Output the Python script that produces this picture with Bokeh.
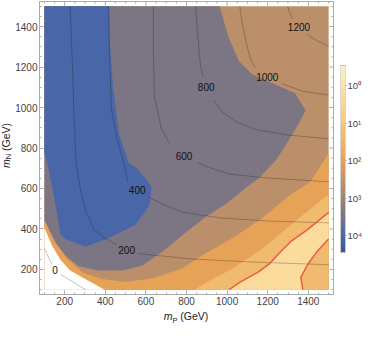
import math
import numpy as np
from bokeh.plotting import figure
from bokeh.layouts import row, column
from bokeh.models import Range1d, FixedTicker, LinearColorMapper, Div, CustomJSTickFormatter
from bokeh.core.properties import value
from bokeh.embed import file_html
from bokeh.resources import INLINE

NAN = float("nan")

# data extent (GeV) and plotted range
mp_extent = [100, 1500]
mn_extent = [100, 1500]
axis_range = [76, 1524]

# filled regions (m_P, m_N in GeV)
orange_mp = [1500, 1410, 1302, 1161, 1019, 892, 784, 642, 501, 383, 289, 208, 147, 100]
orange_mn = [774, 633, 562, 444, 350, 279, 208, 157, 138, 152, 185, 256, 340, 444]

pale_mp = [1500, 1302, 1161, 1019, 901, 840]
pale_mn = [571, 411, 293, 199, 138, 100]

red1_mp = [1500, 1396, 1316, 1255, 1208, 1151, 1066, 1010]
red1_mn = [482, 397, 340, 279, 227, 185, 138, 100]
red2_mp = [1500, 1443, 1396, 1363, 1373]
red2_mn = [350, 289, 223, 161, 100]

gray_mp = [100, 963, 1005, 1057, 1123, 1241, 1335, 1363, 1387, 1349, 1302, 1241, 1161, 1099,
           996, 892, 784, 689, 581, 486, 359, 265, 208, 161, 124, 100]
gray_mn = [1500, 1500, 1354, 1231, 1165, 1113, 1071, 1024, 986, 915, 835, 741, 656, 609,
           524, 458, 373, 293, 218, 194, 194, 218, 265, 326, 397, 444]

blue_mp = [100, 420, 421, 439, 468, 515, 562, 628, 618, 548, 406, 303, 204, 180, 147, 114, 100]
blue_mn = [1500, 1500, 1340, 1090, 868, 727, 694, 609, 515, 421, 350, 312, 350, 373, 562, 727, 774]

white_mp = [100, 138, 180, 227, 312, 397, 100]
white_mn = [406, 317, 246, 194, 147, 100, 100]

# labelled contour lines (NaN = gap for the label)
c0_mp = [100, 138, NAN, 180, 241, 303]
c0_mn = [303, 223, NAN, 175, 138, 100]
c200_mp = [227, 237, 246, 256, 279, 303, 345, 406, 454, NAN, 557, 642, 831, 1113, 1500]
c200_mn = [1500, 1245, 963, 727, 585, 491, 397, 350, 322, NAN, 279, 270, 251, 237, 223]
c400_mp = [416, 421, 430, 458, 491, 510, NAN, 614, 689, 784, 972, 1208, 1500]
c400_mn = [1500, 1245, 996, 845, 727, 633, NAN, 557, 520, 482, 454, 439, 430]
c600_mp = [637, 637, 642, 675, 717, NAN, 854, 925, 1019, 1208, 1500]
c600_mn = [1500, 1293, 1057, 901, 821, NAN, 727, 699, 670, 651, 633]
c800_mp = [845, 854, 868, 882, NAN, 934, 972, 1043, 1137, 1302, 1500]
c800_mn = [1500, 1373, 1212, 1151, NAN, 1038, 981, 930, 892, 864, 845]
c1000_mp = [1062, 1076, 1090, 1113, 1137, NAN, 1269, 1373, 1500]
c1000_mn = [1500, 1410, 1340, 1245, 1198, NAN, 1118, 1080, 1062]
c1200_mp = [1297, 1311, 1321, NAN, 1396, 1443, 1500]
c1200_mn = [1500, 1462, 1439, NAN, 1359, 1330, 1302]

label_mp = [152, 505, 557, 788, 897, 1198, 1354]
label_mn = [199, 298, 590, 760, 1099, 1151, 1396]
label_txt = ["0", "200", "400", "600", "800", "1000", "1200"]

major_ticks = [200, 400, 600, 800, 1000, 1200, 1400]
minor_ticks = [v for v in range(100, 1501, 50) if v not in major_ticks]

cbar_ticks = [0, -1, -2, -3, -4]          # -log10 of the value: 10^0 ... 10^4
cbar_low, cbar_high = -4.44, 0.54

# colours
C_BROWN = "#bb8f69"
C_ORANGE = "#e6a257"
C_PALE = "#f1bb6f"
C_LIGHT = "#fcdc9d"
C_GRAY = "#7c7583"
C_BLUE = "#4866a8"
C_RED = "#ef5b3c"

# colour bar gradient (stops along -log10 value)
stop_t = [-4.44, -4.0, -3.5, -3.0, -2.5, -2.0, -1.5, -1.0, -0.5, 0.0, 0.54]
stop_c = ["#3a5797", "#4f68a5", "#787788", "#9c8576", "#c4916a", "#e6a157",
          "#f0b566", "#f5c67f", "#f9d593", "#fce2a8", "#fdefc8"]


def hex2rgb(h):
    return tuple(int(h[i:i + 2], 16) for i in (1, 3, 5))


def gradient(n=256):
    out = []
    for i in range(n):
        t = cbar_low + (cbar_high - cbar_low) * i / (n - 1)
        for k in range(len(stop_t) - 1):
            if stop_t[k] <= t <= stop_t[k + 1]:
                f = (t - stop_t[k]) / (stop_t[k + 1] - stop_t[k])
                a, b = hex2rgb(stop_c[k]), hex2rgb(stop_c[k + 1])
                out.append("#%02x%02x%02x" % tuple(round(a[j] + (b[j] - a[j]) * f) for j in range(3)))
                break
    return out


FONT = "Liberation Sans"
AX = "#aaaaaa"
H = 308
B_TOP, B_BOT = 1, 14
FRAME_H = H - B_TOP - B_BOT

p = figure(width=322, height=H, x_range=Range1d(*axis_range), y_range=Range1d(*axis_range),
           output_backend="svg", toolbar_location=None,
           min_border_left=27, min_border_right=1, min_border_top=B_TOP, min_border_bottom=B_BOT)
p.grid.visible = False
p.outline_line_color = AX
p.margin = (0, 0, 0, 0)

# filled bands
p.quad(left=mp_extent[0], right=mp_extent[1], bottom=mn_extent[0], top=mn_extent[1],
       fill_color=C_BROWN, line_color=None)
p.patch(orange_mp + [mp_extent[0], mp_extent[1]], orange_mn + [mn_extent[0], mn_extent[0]],
        fill_color=C_ORANGE, line_color=None)
p.patch(pale_mp + [mp_extent[1]], pale_mn + [mn_extent[0]], fill_color=C_PALE, line_color=None)
p.patch(red1_mp + red2_mp[::-1], red1_mn + red2_mn[::-1], fill_color=C_LIGHT, line_color=None)
p.patch(gray_mp, gray_mn, fill_color=C_GRAY, line_color=None)
p.patch(blue_mp, blue_mn, fill_color=C_BLUE, line_color=None)
p.patch(white_mp, white_mn, fill_color="white", line_color=None)

for xs, ys in [(c0_mp, c0_mn), (c200_mp, c200_mn), (c400_mp, c400_mn), (c600_mp, c600_mn),
               (c800_mp, c800_mn), (c1000_mp, c1000_mn), (c1200_mp, c1200_mn)]:
    p.line(xs, ys, line_color="#1a1a1a", line_alpha=0.4, line_width=0.7)

p.line(red1_mp, red1_mn, line_color=C_RED, line_width=1.5)
p.line(red2_mp, red2_mn, line_color=C_RED, line_width=1.5)

p.text(x=label_mp, y=label_mn, text=label_txt, text_font=value(FONT), text_font_size="10px",
       text_color="#111111", text_align="center", text_baseline="middle")

# bottom / left axes: inward ticks
tick = FixedTicker(ticks=major_ticks, minor_ticks=minor_ticks)
for ax in [p.xaxis[0], p.yaxis[0]]:
    ax.ticker = tick
    ax.axis_line_color = AX
    ax.major_tick_line_color = AX
    ax.minor_tick_line_color = AX
    ax.major_tick_in = 4
    ax.major_tick_out = 0
    ax.minor_tick_in = 2
    ax.minor_tick_out = 0
    ax.major_label_text_font = FONT
    ax.major_label_text_font_size = "10px"
    ax.major_label_text_color = "#444444"
p.xaxis.major_label_standoff = 2
p.yaxis.major_label_standoff = 2

# top / right frame ticks (inward)
top = [axis_range[1]] * len(major_ticks)
topm = [axis_range[1]] * len(minor_ticks)
p.ray(x=major_ticks, y=top, length=4, length_units="screen", angle=-math.pi / 2,
      line_color=AX, line_width=1)
p.ray(x=minor_ticks, y=topm, length=2, length_units="screen", angle=-math.pi / 2,
      line_color=AX, line_width=1)
p.ray(x=top, y=major_ticks, length=4, length_units="screen", angle=math.pi,
      line_color=AX, line_width=1)
p.ray(x=topm, y=minor_ticks, length=2, length_units="screen", angle=math.pi,
      line_color=AX, line_width=1)

# colour bar as its own small figure (same borders as the main plot, bar placed by range)
BAR_TOP_PX, BAR_BOT_PX = 64, 251          # bar edges, pixels below the frame top
scale = (BAR_BOT_PX - BAR_TOP_PX) / (cbar_high - cbar_low)
cb_top = cbar_high + BAR_TOP_PX / scale
cb_bot = cbar_low - (FRAME_H - BAR_BOT_PX) / scale

mapper = LinearColorMapper(palette=gradient(), low=cbar_low, high=cbar_high)
cbf = figure(width=31, height=H, x_range=Range1d(0, 1), y_range=Range1d(cb_bot, cb_top),
             output_backend="svg", toolbar_location=None, x_axis_location=None,
             y_axis_location="right", min_border_left=6, min_border_right=20,
             min_border_top=B_TOP, min_border_bottom=B_BOT)
cbf.margin = (0, 0, 0, 0)
cbf.grid.visible = False
cbf.outline_line_color = None
cbf.image(image=[np.linspace(cbar_low, cbar_high, 256).reshape(-1, 1)], x=0, y=cbar_low,
          dw=1, dh=cbar_high - cbar_low, color_mapper=mapper)
cbf.quad(left=0, right=1, bottom=cbar_low, top=cbar_high, fill_color=None,
         line_color="#bbbbbb", line_width=1)
ya = cbf.yaxis[0]
ya.ticker = FixedTicker(ticks=cbar_ticks)
ya.formatter = CustomJSTickFormatter(
    code="return '10' + ['\u2070','\u00b9','\u00b2','\u00b3','\u2074'][Math.round(-tick)]")
ya.axis_line_color = None
ya.major_tick_line_color = "#999999"
ya.major_tick_in = 0
ya.major_tick_out = 1
ya.minor_tick_line_color = None
ya.major_label_standoff = 1
ya.major_label_text_font = FONT
ya.major_label_text_font_size = "9.5px"
ya.major_label_text_color = "#444444"

TXT = "font-family:'Liberation Sans',Arial,sans-serif; font-size:10.5px; color:#222222; white-space:nowrap;"
SUB = "<sub style=\"font-size:7.5px; line-height:0;\">%s</sub>"

ylab = Div(text=('<div style="padding-top:123px; width:12px;">'
                 '<div style="writing-mode:vertical-rl; transform:rotate(180deg); line-height:12px; '
                 + TXT + '"><i>m</i>' + (SUB % "N") + ' (GeV)</div></div>'),
           width=12, height=H, margin=(0, 0, 0, 0))

xlab = Div(text=('<div style="width:294px; margin-left:39px; text-align:center; line-height:14px; '
                 + TXT + '"><i>m</i>' + (SUB % "P") + ' (GeV)</div>'),
           width=365, height=14, margin=(0, 0, 0, 0))

layout = column(row(ylab, p, cbf, spacing=0), xlab, spacing=0)

open("out.html", "w").write(file_html(layout, INLINE))
